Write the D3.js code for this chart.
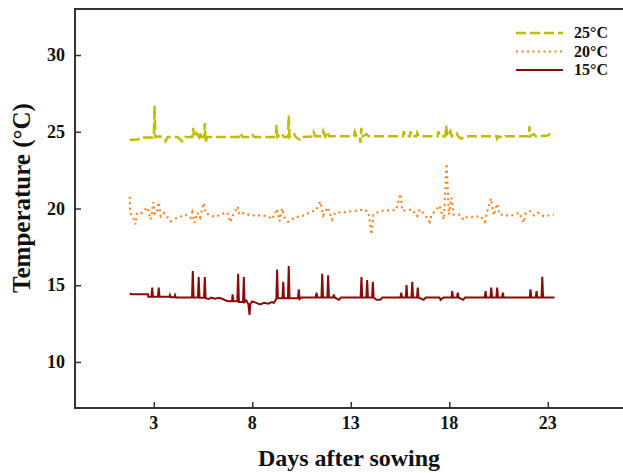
<!DOCTYPE html>
<html>
<head>
<meta charset="utf-8">
<script src="https://cdn.jsdelivr.net/npm/d3@7"></script>
<style>
  body { margin: 0; background: #fff; }
  text { font-family: "Liberation Serif", "Times New Roman", serif; font-weight: bold; fill: #111; }
</style>
</head>
<body>
<div id="chart"></div>
<script>
// Temperature logger readings per chamber, [day after sowing, temp]
const xTicks = [3, 8, 13, 18, 23];
const yTicks = [10, 15, 20, 25, 30];
const labels = ['25°C', '20°C', '15°C'];

const temp25 = [
  [1.78,24.47],[2.2,24.5],[2.3,24.62],[2.95,24.62],[3.0,24.75],[3.04,26.7],[3.08,24.65],[3.3,24.7],[3.5,24.62],[3.6,24.38],[3.7,24.66],[4.2,24.66],[4.45,24.38],[4.6,24.66],
  [4.96,24.66],[5.0,25.25],[5.04,24.66],[5.17,24.92],[5.3,24.66],[5.34,25.0],[5.4,24.66],[5.55,24.66],[5.59,25.57],[5.63,24.27],[5.7,24.66],
  [7.3,24.66],[7.4,24.92],[7.5,24.66],[7.9,24.66],[8.0,24.8],[8.1,24.66],
  [9.19,24.66],[9.23,25.46],[9.27,24.66],[9.52,24.9],[9.6,24.66],[9.81,24.66],[9.85,26.05],[9.89,24.66],[10.1,24.92],[10.2,24.66],[10.45,24.45],[10.55,24.66],
  [11.1,24.7],[11.12,24.92],[11.2,24.7],[11.55,24.7],[11.6,25.03],[11.7,24.7],[11.8,25.0],[11.9,24.7],
  [13.15,24.7],[13.2,25.0],[13.3,24.7],[13.45,24.7],[13.49,24.27],[13.53,25.25],[13.6,24.7],[13.8,24.85],[13.9,24.7],
  [15.65,24.7],[15.69,25.03],[15.75,24.7],[16.0,24.7],[16.03,25.03],[16.1,24.7],[16.33,24.7],[16.37,24.92],[16.45,24.7],
  [17.4,24.7],[17.45,25.03],[17.5,24.7],[17.8,24.7],[17.84,25.4],[17.9,24.7],[18.06,25.03],[18.12,24.7],[18.37,24.92],[18.45,24.7],[18.6,24.55],[18.8,24.7],
  [20.4,24.7],[20.43,24.55],[20.5,24.7],[20.77,24.6],[20.85,24.7],
  [22.03,24.7],[22.07,25.36],[22.12,24.7],[22.29,24.85],[22.4,24.7],[23.0,24.75],[23.1,24.85],[23.34,24.81]
];

const temp20 = [
  [1.78,20.76],[1.8,19.72],[1.95,19.4],[2.07,18.96],[2.15,19.72],[2.4,19.72],[2.66,20.08],[2.75,19.72],[2.83,19.28],[2.9,19.6],[2.97,20.41],[3.05,19.65],[3.15,19.7],[3.25,20.41],[3.35,19.5],[3.5,19.72],[3.65,19.5],[3.85,19.17],[4.1,19.35],[4.61,19.6],[4.86,19.39],[4.95,19.75],[5.07,19.07],[5.2,19.72],[5.35,19.4],[5.54,20.37],[5.62,19.72],[5.8,19.6],[6.1,19.45],[6.4,19.6],[6.72,19.75],[6.89,19.11],[6.98,19.45],[7.25,20.13],[7.35,19.6],[7.6,19.72],[7.9,19.55],[8.5,19.55],[8.84,19.45],[9.0,19.3],[9.26,19.98],[9.38,19.17],[9.52,20.0],[9.62,19.45],[9.82,19.13],[10.0,19.3],[10.3,19.45],[10.65,19.55],[10.9,19.75],[11.24,19.9],[11.46,20.44],[11.6,19.55],[11.83,20.08],[12.05,19.28],[12.2,19.72],[12.64,19.75],
  [13.0,19.82],[13.3,19.85],[13.7,19.93],[13.91,19.72],[14.05,18.31],[14.15,19.6],[14.3,19.72],[14.6,19.85],[15.3,19.9],[15.52,20.96],[15.62,19.85],[16.1,19.93],[16.37,19.5],[16.5,19.93],[16.7,19.7],[17.01,19.13],[17.1,19.6],[17.3,19.85],[17.5,20.19],[17.72,19.28],[17.86,22.93],[17.98,19.6],[18.11,20.7],[18.22,19.6],[18.5,19.6],[18.74,19.25],[18.9,19.45],[19.2,19.45],[19.6,19.5],[19.8,19.13],[19.93,19.85],[20.12,20.65],[20.25,19.55],[20.43,20.31],[20.55,19.6],[20.8,19.6],[21.05,19.5],[21.3,19.6],[21.55,19.72],[21.78,19.07],[21.88,19.72],[22.12,19.82],[22.3,19.55],[22.5,19.72],[22.8,19.5],[23.3,19.61]
];

const temp15 = [
  [1.78,14.47],[1.85,14.42],[2.70,14.42],[2.72,14.25],
  [2.88,14.25],[2.92,14.84],[2.96,14.25],[3.21,14.25],[3.25,14.84],[3.29,14.25],
  [3.8,14.25],[3.82,14.35],[3.86,14.22],[4.05,14.22],[4.08,14.35],[4.12,14.2],
  [4.94,14.2],[4.98,15.92],[5.02,14.2],[5.24,14.2],[5.28,15.53],[5.32,14.18],[5.55,14.18],[5.59,15.53],[5.63,14.15],
  [5.8,14.1],[5.9,14.2],[6.1,14.12],[6.3,14.18],[6.5,14.1],[6.72,13.97],[6.9,13.95],
  [6.97,13.95],[7.0,14.4],[7.04,13.95],[7.24,13.95],[7.28,15.75],[7.32,13.9],[7.53,13.9],[7.57,15.53],[7.61,13.9],
  [7.7,14.0],[7.8,13.75],[7.86,13.06],[7.9,13.8],[8.0,13.95],[8.2,13.85],[8.4,13.75],[8.6,13.85],[8.8,13.8],[9.0,13.9],[9.09,13.85],
  [9.22,14.1],[9.26,16.03],[9.3,14.15],[9.53,14.15],[9.57,15.23],[9.61,14.15],[9.81,14.15],[9.85,16.25],[9.89,14.15],
  [10.32,14.15],[10.36,14.73],[10.4,14.1],[10.5,14.2],
  [11.22,14.2],[11.26,14.51],[11.3,14.2],[11.51,14.2],[11.55,15.75],[11.59,14.2],[11.81,14.2],[11.85,15.64],[11.89,14.2],
  [12.1,14.2],[12.14,14.4],[12.18,14.2],[12.4,14.05],[12.5,14.2],
  [13.5,14.2],[13.54,15.53],[13.58,14.2],[13.79,14.2],[13.83,15.34],[13.87,14.2],[14.08,14.2],[14.12,15.23],[14.16,14.2],
  [14.3,14.05],[14.5,14.05],[14.6,14.2],
  [15.52,14.2],[15.56,14.51],[15.6,14.2],[15.79,14.2],[15.83,15.01],[15.87,14.2],[16.08,14.2],[16.12,15.23],[16.16,14.2],[16.36,14.2],[16.4,14.84],[16.44,14.2],
  [16.7,14.05],[16.8,14.2],[17.5,14.2],[17.56,14.05],[17.7,14.2],
  [18.11,14.2],[18.15,14.62],[18.19,14.2],[18.39,14.2],[18.43,14.51],[18.47,14.2],[18.7,14.05],[18.8,14.2],
  [19.8,14.2],[19.84,14.62],[19.88,14.2],[20.09,14.2],[20.13,14.84],[20.17,14.2],[20.39,14.2],[20.43,14.84],[20.47,14.2],[20.68,14.2],[20.72,14.51],[20.76,14.2],
  [22.08,14.2],[22.12,14.73],[22.16,14.2],[22.39,14.2],[22.43,14.62],[22.47,14.2],[22.68,14.2],[22.72,15.55],[22.76,14.2],
  [23.34,14.2]
];

const width = 623, height = 473;
const margin = {top: 9, left: 75, bottom: 65};

const svg = d3.select('#chart').append('svg')
    .attr('width', width)
    .attr('height', height);

// x axis runs past the right edge of the picture (the frame is cut off there)
const x = d3.scaleLinear().domain([-1, 28]).range([margin.left, margin.left + 29 * 19.7]);
const y = d3.scaleLinear().domain([7, 33]).range([height - margin.bottom, margin.top]);

const series = [
  {name: labels[0], data: temp25, color: '#bcbf00', dash: '10,4', w: 2.5},
  {name: labels[1], data: temp20, color: '#ff8422', dash: '2,3.5', w: 2.2},
  {name: labels[2], data: temp15, color: '#8b0a0a', dash: null, w: 2}
];

const line = d3.line().x(d => x(d[0])).y(d => y(d[1]));

svg.selectAll('path.series')
    .data(series)
    .join('path')
    .attr('class', 'series')
    .attr('d', d => line(d.data))
    .attr('fill', 'none')
    .attr('stroke', d => d.color)
    .attr('stroke-width', d => d.w)
    .attr('stroke-dasharray', d => d.dash);

// frame: left, top and bottom
svg.append('rect')
    .attr('x', x.range()[0])
    .attr('y', y.range()[1])
    .attr('width', x.range()[1] - x.range()[0])
    .attr('height', y.range()[0] - y.range()[1])
    .attr('fill', 'none')
    .attr('stroke', '#333')
    .attr('stroke-width', 2);

// y ticks (inward)
const yAxis = svg.append('g')
    .attr('transform', `translate(${x.range()[0]},0)`)
    .call(d3.axisRight(y).tickValues(yTicks).tickSize(6).tickFormat(''));
yAxis.select('.domain').remove();
yAxis.selectAll('line').attr('stroke', '#333').attr('stroke-width', 1.5);

svg.selectAll('text.ylab')
    .data(yTicks)
    .join('text')
    .attr('class', 'ylab')
    .attr('x', 65)
    .attr('y', d => y(d) + 6)
    .attr('text-anchor', 'end')
    .attr('font-size', 18)
    .text(d => d);

// x ticks (inward)
const xAxis = svg.append('g')
    .attr('transform', `translate(0,${y.range()[0]})`)
    .call(d3.axisTop(x).tickValues(xTicks).tickSize(6).tickFormat(''));
xAxis.select('.domain').remove();
xAxis.selectAll('line').attr('stroke', '#333').attr('stroke-width', 1.5);

svg.selectAll('text.xlab')
    .data(xTicks)
    .join('text')
    .attr('class', 'xlab')
    .attr('x', d => x(d))
    .attr('y', 429)
    .attr('text-anchor', 'middle')
    .attr('font-size', 18)
    .text(d => d);

// axis titles
svg.append('text')
    .attr('x', 349)
    .attr('y', 466)
    .attr('text-anchor', 'middle')
    .attr('font-size', 24)
    .text('Days after sowing');

svg.append('text')
    .attr('transform', 'translate(30,198) rotate(-90)')
    .attr('text-anchor', 'middle')
    .attr('font-size', 25)
    .text('Temperature (°C)');

// legend
const legend = svg.selectAll('g.legend')
    .data(series)
    .join('g')
    .attr('class', 'legend')
    .attr('transform', (d, i) => `translate(516,${33 + i * 18.5})`);

legend.append('line')
    .attr('x1', 0).attr('x2', 47)
    .attr('stroke', d => d.color)
    .attr('stroke-width', d => d.w)
    .attr('stroke-dasharray', d => d.dash);

legend.append('text')
    .attr('x', 58)
    .attr('y', 5)
    .attr('font-size', 16)
    .text(d => d.name);
</script>
</body>
</html>
